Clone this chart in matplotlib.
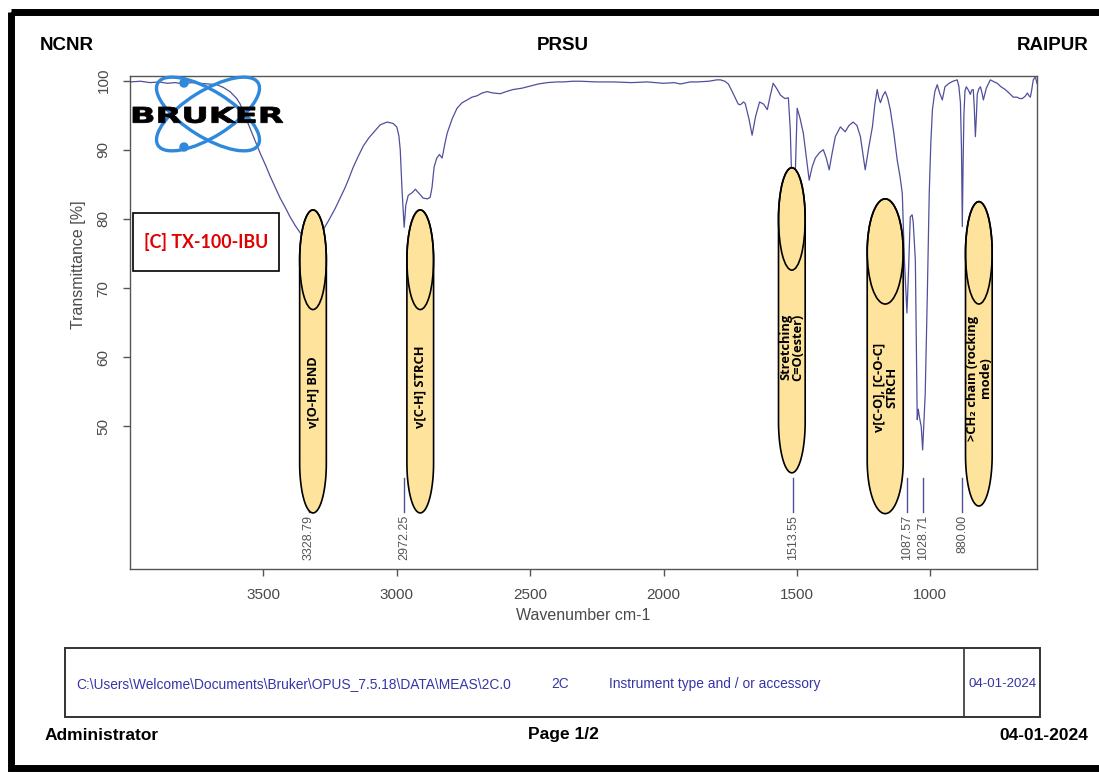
import numpy as np
import matplotlib
matplotlib.use("Agg")
import matplotlib.pyplot as plt
from matplotlib.patches import Ellipse, Rectangle, Circle, PathPatch, Polygon
from matplotlib.textpath import TextPath
from matplotlib.font_manager import FontProperties
from matplotlib.transforms import Affine2D

# FT-IR spectrum, wavenumber (cm-1) vs transmittance (%)
wavenumber = [
    4000, 3960, 3925, 3890, 3860, 3831, 3800, 3770, 3737, 3700, 3674, 3650,
    3625, 3600, 3587, 3570, 3550, 3530, 3512, 3490, 3475, 3455, 3437, 3420,
    3400, 3380, 3362, 3345, 3328.79, 3317, 3300, 3276, 3255, 3231, 3210, 3194,
    3180, 3164, 3145, 3126, 3105, 3089, 3062, 3036, 3014, 3000, 2992, 2987,
    2980, 2972.25, 2966, 2957, 2942, 2930, 2924, 2912, 2901, 2885, 2875, 2868,
    2860, 2850, 2840, 2830, 2820, 2811, 2792, 2774, 2755, 2736, 2718, 2699,
    2680, 2661, 2640, 2612, 2590, 2564, 2530, 2500, 2470, 2436, 2400, 2376,
    2340, 2312, 2250, 2189, 2120, 2061, 2000, 1960, 1937, 1900, 1874, 1830,
    1800, 1787, 1770, 1757, 1745, 1731, 1720, 1712, 1700, 1694, 1680, 1668,
    1655, 1640, 1625, 1611, 1600, 1589, 1575, 1562, 1545, 1532, 1525, 1519,
    1513.55, 1508, 1499, 1488, 1476, 1465, 1454, 1443, 1431, 1415, 1401, 1390,
    1379, 1368, 1356, 1337, 1319, 1305, 1289, 1275, 1262, 1253, 1244, 1230,
    1217, 1208, 1199, 1193, 1187, 1178, 1169, 1160, 1150, 1137, 1124, 1113,
    1105, 1097, 1087.57, 1082, 1075, 1068, 1064, 1056, 1049, 1045, 1041, 1034,
    1028.71, 1019, 1011, 1004, 998, 992, 983, 974, 965, 955, 945, 930,
    915, 899, 893, 887, 883, 880.00, 877, 874, 870, 865, 857, 850,
    845, 839, 835, 831, 827, 824, 818, 812, 805, 801, 790, 775,
    760, 749, 735, 719, 705, 689, 675, 665, 655, 645, 636, 630,
    625, 620, 614, 606, 600,
]
transmittance = [
    99.8, 99.9, 99.7, 99.8, 99.6, 99.7, 99.5, 99.7, 99.6, 99.5, 99.4, 99.0,
    98.4, 97.4, 96.6, 95.0, 93.1, 91.2, 89.5, 87.6, 86.2, 84.5, 83.0, 81.8,
    80.3, 79.0, 78.0, 77.5, 77.3, 77.5, 77.8, 78.4, 79.8, 81.5, 83.2, 84.5,
    85.8, 87.4, 89.0, 90.5, 91.7, 92.4, 93.6, 94.0, 93.8, 93.3, 92.0, 90.0,
    84.0, 78.8, 82.0, 83.4, 83.8, 84.3, 84.0, 83.5, 83.0, 82.9, 83.1, 84.5,
    87.5, 88.8, 89.3, 88.8, 90.8, 92.4, 94.5, 96.0, 96.8, 97.2, 97.6, 97.8,
    98.2, 98.4, 98.2, 98.1, 98.4, 98.7, 98.9, 99.2, 99.5, 99.7, 99.8, 99.8,
    99.9, 99.9, 99.8, 99.8, 99.7, 99.8, 99.6, 99.7, 99.5, 99.8, 99.8, 99.9,
    100.1, 100.1, 99.9, 99.5, 98.6, 97.5, 96.6, 96.5, 96.9, 96.7, 94.5, 92.1,
    94.8, 96.9, 96.6, 95.8, 97.8, 99.6, 98.8, 97.9, 97.4, 97.5, 93.0, 85.0,
    73.0, 84.0, 96.0, 94.5, 92.4, 89.0, 85.6, 87.5, 88.8, 89.6, 90.0, 88.8,
    87.1, 89.5, 91.9, 93.3, 92.6, 93.5, 94.0, 93.5, 91.9, 89.5, 87.1, 90.5,
    93.3, 96.5, 98.7, 97.5, 96.8, 97.8, 98.4, 97.5, 95.8, 92.5, 88.5, 86.0,
    83.7, 74.0, 66.4, 72.0, 80.3, 80.6, 79.5, 74.0, 51.0, 52.5, 51.4, 50.0,
    46.6, 54.8, 69.3, 83.7, 91.0, 95.8, 98.4, 99.4, 98.2, 97.2, 99.1, 99.6,
    99.9, 100.1, 99.2, 96.8, 90.0, 78.9, 88.0, 95.0, 98.5, 99.1, 98.6, 98.0,
    98.6, 98.7, 96.0, 91.9, 95.0, 98.0, 98.8, 99.1, 98.0, 97.2, 98.9, 100.1,
    99.8, 99.6, 99.1, 98.7, 98.2, 97.6, 97.6, 97.4, 97.4, 97.7, 98.2, 97.8,
    97.6, 98.6, 100.1, 100.5, 99.6,
]

# picked peaks
peak_positions = [3328.79, 2972.25, 1513.55, 1087.57, 1028.71, 880.00]

# band assignments
band_names = [
    "v[O-H] BND",
    "v[C-H] STRCH",
    "Stretching\nC=O(ester)",
    "v[C-O], [C-O-C]\nSTRCH",
    ">CH\u2082 chain (rocking\nmode)",
]

sample_name = "[C] TX-100-IBU"
x_ticks = [3500, 3000, 2500, 2000, 1500, 1000]
y_ticks = [50, 60, 70, 80, 90, 100]

# capsule layout for the band captions: centre wavenumber, width,
# top and bottom of the capsule and bottom of the inner ellipse (% T)
band_layout = [
    (3314, 100, 81.3, 37.5, 66.9),
    (2912, 100, 81.3, 37.5, 66.9),
    (1519, 100, 87.4, 43.3, 72.6),
    (1169, 135, 82.9, 37.4, 67.7),
    (818, 100, 82.5, 38.5, 67.7),
]
caption_y = [55.0, 55.7, 61.5, 55.7, 57.0]

W, H = 1099, 774
line_col = "#4f4f9c"
grey = "#4a4a4a"
fill_col = "#fde39b"

plt.rcParams["font.family"] = ["Liberation Sans", "DejaVu Sans"]


def capsule(cx, w, top, bot, cap):
    # straight sides with half-ellipse ends
    t = np.linspace(0, np.pi, 40)
    hw = w / 2
    upper = np.column_stack([cx + hw * np.cos(t), top - cap + cap * np.sin(t)])
    lower = np.column_stack([cx - hw * np.cos(t), bot + cap - cap * np.sin(t)])
    return np.vstack([upper, lower])


fig = plt.figure(figsize=(W / 100, H / 100), dpi=100)

# page decorations in pixel coordinates
page = fig.add_axes([0, 0, 1, 1], zorder=0)
page.set_xlim(0, W)
page.set_ylim(H, 0)
page.axis("off")
page.add_patch(Rectangle((11, 12), 1095, 756, fill=False, lw=5, ec="black"))
hdr = dict(fontsize=13.5, fontweight="bold", va="center", color="black")
page.text(40, 46, "NCNR", ha="left", **hdr)
page.text(563, 46, "PRSU", ha="center", **hdr)
page.text(1088, 46, "RAIPUR", ha="right", **hdr)
ftr = dict(fontsize=12.5, fontweight="bold", va="center", color="black")
page.text(45, 735, "Administrator", ha="left", **ftr)
page.text(563, 735, "Page 1/2", ha="center", **ftr)
page.text(1088, 735, "04-01-2024", ha="right", **ftr)

page.add_patch(Rectangle((65, 648), 975, 69, fill=False, lw=1.4, ec="#333333"))
page.plot([964, 964], [648, 717], color="#333333", lw=1.2)
info = dict(fontsize=9.9, color="#3535a8", va="center")
page.text(76, 684, r"C:\Users\Welcome\Documents\Bruker\OPUS_7.5.18\DATA\MEAS\2C.0",
          ha="left", **info)
page.text(551, 684, "2C", ha="left", **info)
page.text(609, 684, "Instrument type and / or accessory", ha="left", **info)
page.text(1003, 684, "04-01-2024", ha="center", fontsize=9.6, color="#3535a8",
          va="center")

# spectrum
ax = fig.add_axes([130 / W, 1 - 569 / H, (1037 - 130) / W, (569 - 75.7) / H], zorder=2)
ax.plot(wavenumber, transmittance, color=line_col, lw=0.9, zorder=2)
ax.set_xlim(4000, 600)
ax.set_ylim(29.4, 100.7)
ax.set_xticks(x_ticks)
ax.set_yticks(y_ticks)
for s in ax.spines.values():
    s.set_color("#555555")
    s.set_linewidth(1.0)
ax.tick_params(length=5, width=1, color="#555555", labelcolor=grey, labelsize=11)
ax.tick_params(axis="x", pad=9)
ax.tick_params(axis="y", pad=9, labelrotation=90)
for tl in ax.get_yticklabels():
    tl.set_va("center")
ax.set_xlabel("Wavenumber cm-1", fontsize=11.5, color=grey, labelpad=4)
ax.set_ylabel("Transmittance [%]", fontsize=11.5, color=grey)
ax.yaxis.set_label_coords(-0.049, 0.616)

# peak markers with their wavenumbers
for p in peak_positions:
    ax.plot([p, p], [37.6, 42.6], color=line_col, lw=1.0, zorder=2)
    ax.text(p, 37.2, f"{p:.2f}", rotation=90, ha="center", va="top",
            fontsize=9, color="#555555", zorder=2)

# band assignment capsules
cap_font = ["Open Sans", "DejaVu Sans"]
for (cx, w, top, bot, inner), name, cy in zip(band_layout, band_names, caption_y):
    c = (top - inner) / 2
    ax.add_patch(Polygon(capsule(cx, w, top, bot, c), closed=True, fc=fill_col,
                         ec="black", lw=1.2, zorder=4))
    ax.add_patch(Ellipse((cx, top - c), w, 2 * c, fill=False,
                         ec="black", lw=1.2, zorder=5))
    ax.text(cx, cy, name, rotation=90, ha="center", va="center", fontsize=9.3,
            fontweight="bold", family=cap_font, linespacing=0.95, zorder=6)

# logo and sample label on top of the plot
over = fig.add_axes([0, 0, 1, 1], zorder=3)
over.set_xlim(0, W)
over.set_ylim(H, 0)
over.axis("off")
over.patch.set_alpha(0)

blue = "#2e88dc"
for ang in (32, -32):
    over.add_patch(Ellipse((208, 114), 118, 46, angle=ang, fill=False,
                           ec=blue, lw=2.4))
over.add_patch(Circle((184, 83), 4, color=blue))
over.add_patch(Circle((184, 147), 4, color=blue))

tp = TextPath((0, 0), "BRUKER", size=10,
              prop=FontProperties(family="DejaVu Sans", weight="bold"))
bb = tp.get_extents()
sx = 150 / bb.width
sy = 16 / bb.height
tr = Affine2D().translate(-bb.x0, -bb.y0).scale(sx, -sy).translate(133, 123)
over.add_patch(PathPatch(tr.transform_path(tp), fc="black", ec="black", lw=0.6))

over.add_patch(Rectangle((133, 213), 146, 58, fc="white", ec="black", lw=1.2))
over.text(206, 242, sample_name, ha="center", va="center", fontsize=12.8,
          fontweight="bold", color="#e10000", family=["Lato", "DejaVu Sans"])

fig.savefig("out.png", dpi=100)
